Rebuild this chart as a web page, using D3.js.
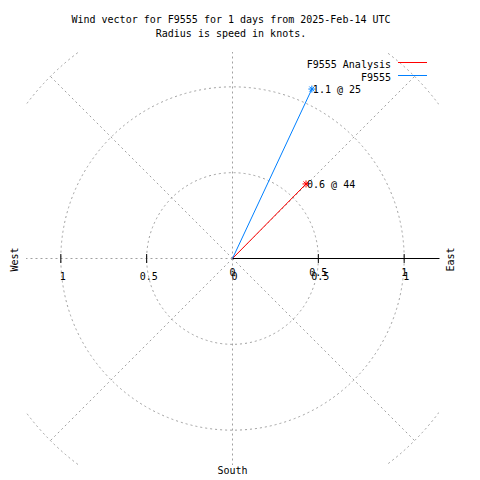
<!DOCTYPE html>
<html>
<head>
<meta charset="utf-8">
<script src="https://cdn.jsdelivr.net/npm/d3@7"></script>
<style>
  html, body { margin: 0; padding: 0; background: #fff; }
  svg { display: block; }
  text { font-family: "DejaVu Sans Mono", "Liberation Mono", monospace; font-size: 10px; fill: #000; }
</style>
</head>
<body>
<svg id="chart" width="480" height="480"></svg>
<script>
// ---- data ----
const titleLines = ["Wind vector for F9555 for 1 days from 2025-Feb-14 UTC", "Radius is speed in knots."];
const seriesNames = ["F9555 Analysis", "F9555"];
const seriesColors = ["#ff0000", "#0080ff"];
const speeds = [0.61, 1.09];          // knots
const directions = [44.6, 25.1];      // degrees, clockwise from north
const pointLabels = ["0.6 @ 44", "1.1 @ 25"];
const ringValues = [0.5, 1.0, 1.5];
const spokeAngles = [0, 45, 90, 135, 180, 225, 270, 315];
const rTicks = [-1, -0.5, 0, 0.5, 1];
const rTickLabels = ["1", "0.5", "0", "0.5", "1"];
const xTicks = [0, 0.5, 1];
const xTickLabels = ["0", "0.5", "1"];
const compassLabels = ["West", "East", "South"];

// ---- layout ----
const svg = d3.select("#chart");
const x = d3.scaleLinear().domain([-1.2, 1.2]).range([26.5, 438.5]);
const y = d3.scaleLinear().domain([-1.2, 1.2]).range([464.5, 52.5]);
const cx = x(0), cy = y(0);
const rpx = v => x(v) - x(0);

svg.append("defs").append("clipPath").attr("id", "plotclip")
  .append("rect").attr("x", x(-1.2) - 0.5).attr("y", y(1.2) - 0.5)
  .attr("width", x(1.2) - x(-1.2) + 1).attr("height", y(-1.2) - y(1.2) + 1);

const gridColor = "#a0a0a0";
const grid = svg.append("g").attr("clip-path", "url(#plotclip)");
grid.selectAll("circle.ring").data(ringValues).join("circle")
  .attr("class", "ring")
  .attr("cx", cx).attr("cy", cy).attr("r", d => rpx(d))
  .attr("fill", "none").attr("stroke", gridColor).attr("stroke-width", 1)
  .attr("stroke-dasharray", "2,3");
const rMax = d3.max(ringValues);
grid.selectAll("line.spoke").data(spokeAngles).join("line")
  .attr("class", "spoke")
  .attr("x1", cx).attr("y1", cy)
  .attr("x2", d => x(rMax * Math.sin(d * Math.PI / 180)))
  .attr("y2", d => y(rMax * Math.cos(d * Math.PI / 180)))
  .attr("stroke", gridColor).attr("stroke-width", 1)
  .attr("stroke-dasharray", "2,3");

// x axis (east half solid)
svg.append("line")
  .attr("x1", cx).attr("y1", cy).attr("x2", x(1.2) + 1).attr("y2", cy)
  .attr("stroke", "#000").attr("stroke-width", 1);
svg.selectAll("line.tick").data(rTicks.filter(d => d !== 0)).join("line")
  .attr("class", "tick")
  .attr("x1", d => x(d)).attr("x2", d => x(d))
  .attr("y1", cy - 4.5).attr("y2", cy + 4.5)
  .attr("stroke", "#000").attr("stroke-width", 1);

// tick labels (two overlapping sets, as in the original)
svg.selectAll("text.rlab").data(rTicks).join("text")
  .attr("class", "rlab")
  .attr("x", d => x(d) + 2).attr("y", cy + 21.5)
  .attr("text-anchor", "middle")
  .text((d, i) => rTickLabels[i]);
svg.selectAll("text.xlab").data(xTicks).join("text")
  .attr("class", "xlab")
  .attr("x", d => x(d)).attr("y", cy + 17.5)
  .attr("text-anchor", "middle")
  .text((d, i) => xTickLabels[i]);

// vectors
const vec = speeds.map((s, i) => ({
  s, d: directions[i], color: seriesColors[i], label: pointLabels[i],
  px: x(s * Math.sin(directions[i] * Math.PI / 180)),
  py: y(s * Math.cos(directions[i] * Math.PI / 180))
}));
const vg = svg.append("g");
vg.selectAll("line.vec").data(vec).join("line")
  .attr("class", "vec")
  .attr("x1", cx).attr("y1", cy).attr("x2", d => d.px).attr("y2", d => d.py)
  .attr("stroke", d => d.color).attr("stroke-width", 1);
const star = vg.selectAll("g.star").data(vec).join("g")
  .attr("class", "star")
  .attr("transform", d => `translate(${d.px},${d.py})`)
  .attr("stroke", d => d.color).attr("stroke-width", 1);
star.append("line").attr("x1", -3.5).attr("x2", 3.5).attr("y1", 0).attr("y2", 0);
star.append("line").attr("x1", 0).attr("x2", 0).attr("y1", -3.5).attr("y2", 3.5);
star.append("line").attr("x1", -2.5).attr("x2", 2.5).attr("y1", -2.5).attr("y2", 2.5);
star.append("line").attr("x1", -2.5).attr("x2", 2.5).attr("y1", 2.5).attr("y2", -2.5);
vg.selectAll("text.vlab").data(vec).join("text")
  .attr("class", "vlab")
  .attr("x", d => d.px + 1).attr("y", d => d.py + 4)
  .text(d => d.label);

// legend
const leg = svg.append("g");
seriesNames.forEach((n, i) => {
  const ly = 62.5 + i * 13;
  leg.append("text").attr("x", 391).attr("y", ly + 5).attr("text-anchor", "end").text(n);
  leg.append("line").attr("x1", 398).attr("x2", 427).attr("y1", ly).attr("y2", ly)
    .attr("stroke", seriesColors[i]).attr("stroke-width", 1);
});

// compass labels
svg.append("text").attr("transform", `translate(18,${cy + 1}) rotate(-90)`)
  .attr("text-anchor", "middle").text(compassLabels[0]);
svg.append("text").attr("transform", `translate(454,${cy + 1}) rotate(-90)`)
  .attr("text-anchor", "middle").text(compassLabels[1]);
svg.append("text").attr("x", cx).attr("y", 474)
  .attr("text-anchor", "middle").text(compassLabels[2]);

// title
svg.selectAll("text.title").data(titleLines).join("text")
  .attr("class", "title")
  .attr("x", 231).attr("y", (d, i) => 23 + i * 13.5)
  .attr("text-anchor", "middle").text(d => d);
</script>
</body>
</html>
